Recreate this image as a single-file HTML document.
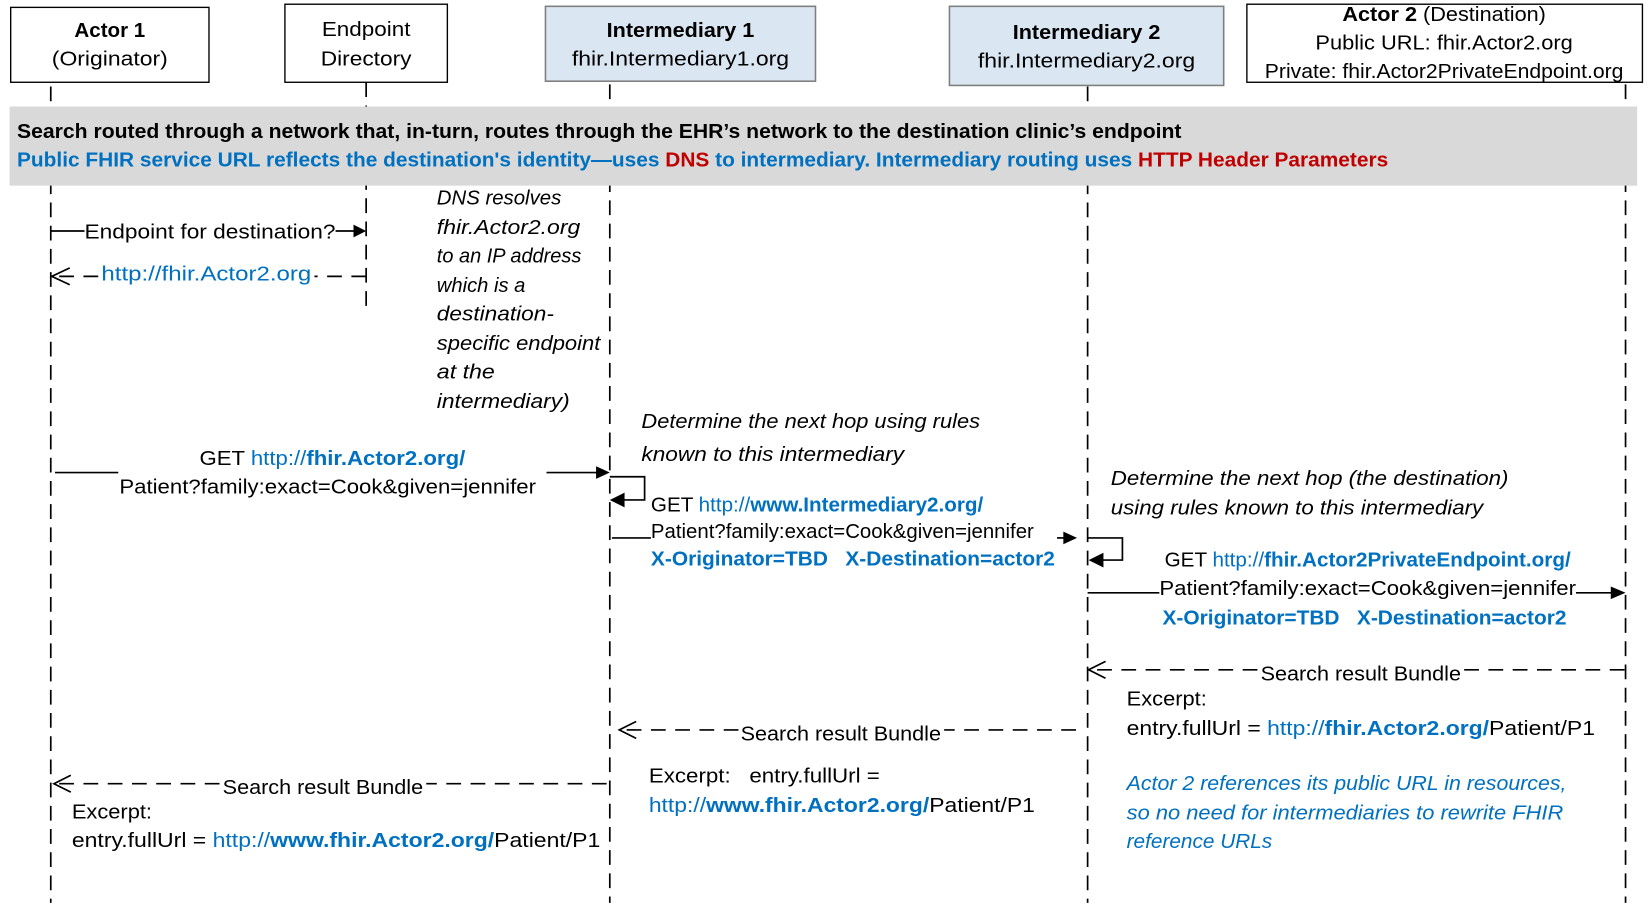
<!DOCTYPE html>
<html><head><meta charset="utf-8"><style>
html,body{margin:0;padding:0;background:#fff;}
svg{display:block;}
text{font-family:"Liberation Sans",sans-serif;font-size:19.5px;fill:#000;white-space:pre;}
.b{font-weight:bold;}
.i{font-style:italic;}
.bl{fill:#0070c0;}
.rd{fill:#c00000;}
.ll{stroke:#000;stroke-width:1.6;stroke-dasharray:14 8;fill:none;}
.dl{stroke:#000;stroke-width:1.6;stroke-dasharray:14 9;fill:none;}
.sl{stroke:#000;stroke-width:1.6;fill:none;}
</style></head><body>
<svg width="1651" height="905" viewBox="0 0 1565 858" xmlns="http://www.w3.org/2000/svg">
<rect width="1565" height="858" fill="#fff"/>
<line class="ll" x1="48" y1="82" x2="48" y2="856"/>
<line class="ll" x1="347" y1="78" x2="347" y2="298"/>
<line class="ll" x1="578" y1="80" x2="578" y2="856"/>
<line class="ll" x1="1031" y1="82" x2="1031" y2="856"/>
<line class="ll" x1="1541" y1="80" x2="1541" y2="856"/>
<rect x="10" y="7" width="188" height="71" fill="#fff" stroke="#000" stroke-width="1.3"/>
<text x="104" y="35" text-anchor="middle" class="b">Actor 1</text>
<text x="104" y="62" text-anchor="middle" textLength="110" lengthAdjust="spacingAndGlyphs">(Originator)</text>
<rect x="270" y="4" width="154" height="74" fill="#fff" stroke="#000" stroke-width="1.3"/>
<text x="347" y="34" text-anchor="middle" textLength="84" lengthAdjust="spacingAndGlyphs">Endpoint</text>
<text x="347" y="62" text-anchor="middle" textLength="86" lengthAdjust="spacingAndGlyphs">Directory</text>
<rect x="517" y="6" width="256" height="71" fill="#dae6f2" stroke="#7f7f7f" stroke-width="1.5"/>
<text x="645" y="35" text-anchor="middle" class="b" textLength="140" lengthAdjust="spacingAndGlyphs">Intermediary 1</text>
<text x="645" y="62" text-anchor="middle" textLength="206" lengthAdjust="spacingAndGlyphs">fhir.Intermediary1.org</text>
<rect x="900" y="6" width="260" height="75" fill="#dae6f2" stroke="#7f7f7f" stroke-width="1.5"/>
<text x="1030" y="37" text-anchor="middle" class="b" textLength="140" lengthAdjust="spacingAndGlyphs">Intermediary 2</text>
<text x="1030" y="64" text-anchor="middle" textLength="206" lengthAdjust="spacingAndGlyphs">fhir.Intermediary2.org</text>
<rect x="1182" y="4" width="375" height="74" fill="#fff" stroke="#000" stroke-width="1.3"/>
<text x="1369" y="20" text-anchor="middle" textLength="193" lengthAdjust="spacingAndGlyphs"><tspan class="b">Actor 2</tspan> (Destination)</text>
<text x="1369" y="47" text-anchor="middle" textLength="244" lengthAdjust="spacingAndGlyphs">Public URL: fhir.Actor2.org</text>
<text x="1369" y="74" text-anchor="middle" textLength="340" lengthAdjust="spacingAndGlyphs">Private: fhir.Actor2PrivateEndpoint.org</text>
<rect x="9" y="101" width="1543" height="75" fill="#d9d9d9"/>
<text x="16" y="131" class="b" textLength="1104" lengthAdjust="spacingAndGlyphs">Search routed through a network that, in-turn, routes through the EHR’s network to the destination clinic’s endpoint</text>
<text x="16" y="158" class="b bl" textLength="1300" lengthAdjust="spacingAndGlyphs">Public FHIR service URL reflects the destination's identity—uses <tspan class="rd">DNS</tspan> to intermediary. Intermediary routing uses <tspan class="rd">HTTP Header Parameters</tspan></text>
<line class="sl" x1="48" y1="219" x2="80" y2="219"/>
<line class="sl" x1="318" y1="219" x2="336" y2="219"/>
<polygon points="347,219 335,213 335,225" fill="#000"/>
<text x="80" y="226" textLength="238" lengthAdjust="spacingAndGlyphs">Endpoint for destination?</text>
<line class="dl" x1="347" y1="262" x2="298" y2="262"/>
<line class="dl" x1="93" y1="262" x2="50" y2="262"/>
<polyline class="sl" points="66,254 49,262 66,270"/>
<text x="96" y="266" class="bl" textLength="199" lengthAdjust="spacingAndGlyphs">http://fhir.Actor2.org</text>
<text x="414" y="194" class="i" textLength="118" lengthAdjust="spacingAndGlyphs">DNS resolves</text>
<text x="414" y="222" class="i" textLength="136" lengthAdjust="spacingAndGlyphs">fhir.Actor2.org</text>
<text x="414" y="249" class="i" textLength="137" lengthAdjust="spacingAndGlyphs">to an IP address</text>
<text x="414" y="277" class="i" textLength="84" lengthAdjust="spacingAndGlyphs">which is a</text>
<text x="414" y="304" class="i" textLength="111" lengthAdjust="spacingAndGlyphs">destination-</text>
<text x="414" y="332" class="i" textLength="155" lengthAdjust="spacingAndGlyphs">specific endpoint</text>
<text x="414" y="359" class="i" textLength="55" lengthAdjust="spacingAndGlyphs">at the</text>
<text x="414" y="387" class="i" textLength="126" lengthAdjust="spacingAndGlyphs">intermediary)</text>
<text x="608" y="406" class="i" textLength="321" lengthAdjust="spacingAndGlyphs">Determine the next hop using rules</text>
<text x="608" y="437" class="i" textLength="249" lengthAdjust="spacingAndGlyphs">known to this intermediary</text>
<text x="1053" y="460" class="i" textLength="377" lengthAdjust="spacingAndGlyphs">Determine the next hop (the destination)</text>
<text x="1053" y="488" class="i" textLength="353" lengthAdjust="spacingAndGlyphs">using rules known to this intermediary</text>
<line class="sl" x1="52" y1="448" x2="112" y2="448"/>
<line class="sl" x1="518" y1="448" x2="566" y2="448"/>
<polygon points="578,448 565,442 565,454" fill="#000"/>
<text x="189" y="441" textLength="252" lengthAdjust="spacingAndGlyphs">GET <tspan class="bl">http://</tspan><tspan class="bl b">fhir.Actor2.org/</tspan></text>
<text x="113" y="468" textLength="395" lengthAdjust="spacingAndGlyphs">Patient?family:exact=Cook&amp;given=jennifer</text>
<polyline class="sl" points="578,452 611,452 611,474 590,474"/>
<polygon points="578,474 592,467 592,481" fill="#000"/>
<text x="617" y="485" textLength="315" lengthAdjust="spacingAndGlyphs">GET <tspan class="bl">http://</tspan><tspan class="bl b">www.Intermediary2.org/</tspan></text>
<text x="617" y="510" textLength="363" lengthAdjust="spacingAndGlyphs">Patient?family:exact=Cook&amp;given=jennifer</text>
<line class="sl" x1="580" y1="510" x2="617" y2="510"/>
<line class="sl" x1="1002" y1="510" x2="1010" y2="510"/>
<polygon points="1021,510 1008,504 1008,516" fill="#000"/>
<text x="617" y="536" class="b bl" textLength="383" lengthAdjust="spacingAndGlyphs">X-Originator=TBD&#160;&#160;&#160;X-Destination=actor2</text>
<polyline class="sl" points="1031,510 1064,510 1064,531 1044,531"/>
<polygon points="1032,531 1046,524 1046,538" fill="#000"/>
<text x="1104" y="537" textLength="385" lengthAdjust="spacingAndGlyphs">GET <tspan class="bl">http://</tspan><tspan class="bl b">fhir.Actor2PrivateEndpoint.org/</tspan></text>
<text x="1099" y="564" textLength="395" lengthAdjust="spacingAndGlyphs">Patient?family:exact=Cook&amp;given=jennifer</text>
<line class="sl" x1="1031" y1="562" x2="1099" y2="562"/>
<line class="sl" x1="1494" y1="562" x2="1528" y2="562"/>
<polygon points="1541,562 1527,556 1527,568" fill="#000"/>
<text x="1102" y="592" class="b bl" textLength="383" lengthAdjust="spacingAndGlyphs">X-Originator=TBD&#160;&#160;&#160;X-Destination=actor2</text>
<line class="dl" x1="1540" y1="635" x2="1388" y2="635"/>
<line class="dl" x1="1192" y1="635" x2="1034" y2="635"/>
<polyline class="sl" points="1048,627 1032,635 1048,643"/>
<text x="1195" y="645" textLength="190" lengthAdjust="spacingAndGlyphs">Search result Bundle</text>
<text x="1068" y="669" textLength="76" lengthAdjust="spacingAndGlyphs">Excerpt:</text>
<text x="1068" y="697" textLength="444" lengthAdjust="spacingAndGlyphs">entry.fullUrl = <tspan class="bl">http://</tspan><tspan class="bl b">fhir.Actor2.org/</tspan>Patient/P1</text>
<text x="1068" y="749" class="i bl" textLength="417" lengthAdjust="spacingAndGlyphs">Actor 2 references its public URL in resources,</text>
<text x="1068" y="777" class="i bl" textLength="414" lengthAdjust="spacingAndGlyphs">so no need for intermediaries to rewrite FHIR</text>
<text x="1068" y="804" class="i bl" textLength="138" lengthAdjust="spacingAndGlyphs">reference URLs</text>
<line class="dl" x1="1020" y1="692" x2="895" y2="692"/>
<line class="dl" x1="700" y1="692" x2="588" y2="692"/>
<polyline class="sl" points="603,684 587,692 603,700"/>
<text x="702" y="702" textLength="190" lengthAdjust="spacingAndGlyphs">Search result Bundle</text>
<text x="615" y="742" textLength="219" lengthAdjust="spacingAndGlyphs">Excerpt:&#160;&#160;&#160;entry.fullUrl =</text>
<text x="615" y="770" textLength="366" lengthAdjust="spacingAndGlyphs"><tspan class="bl">http://</tspan><tspan class="bl b">www.fhir.Actor2.org/</tspan>Patient/P1</text>
<line class="dl" x1="575" y1="743" x2="404" y2="743"/>
<line class="dl" x1="208" y1="743" x2="52" y2="743"/>
<polyline class="sl" points="67,735 51,743 67,751"/>
<text x="211" y="753" textLength="190" lengthAdjust="spacingAndGlyphs">Search result Bundle</text>
<text x="68" y="776" textLength="76" lengthAdjust="spacingAndGlyphs">Excerpt:</text>
<text x="68" y="803" textLength="501" lengthAdjust="spacingAndGlyphs">entry.fullUrl = <tspan class="bl">http://</tspan><tspan class="bl b">www.fhir.Actor2.org/</tspan>Patient/P1</text>
</svg>
</body></html>
